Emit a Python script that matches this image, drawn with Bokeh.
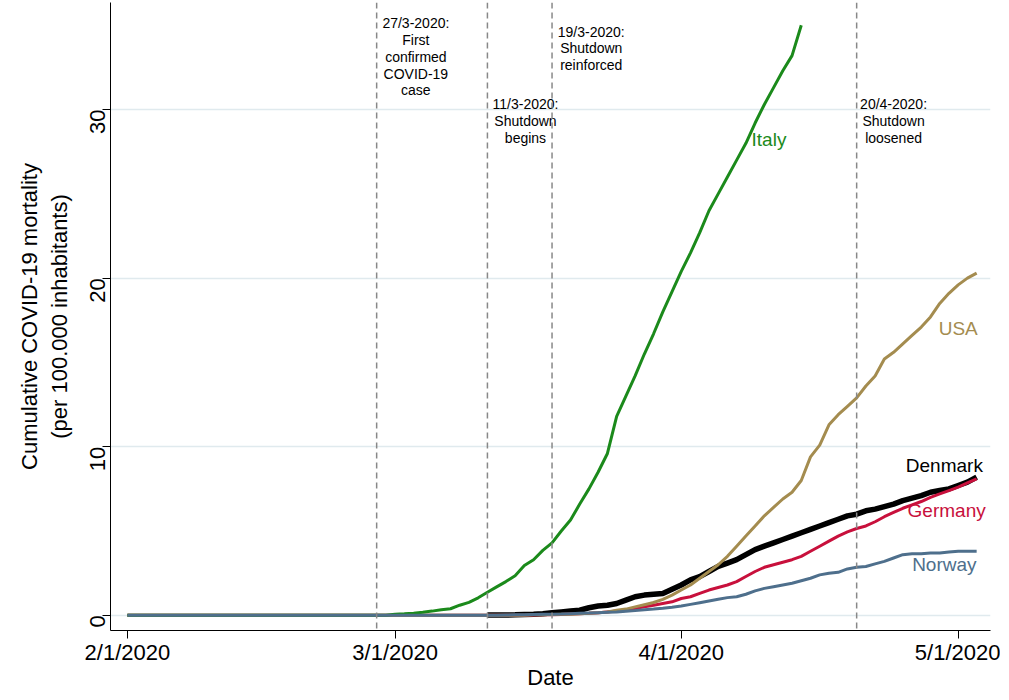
import pandas as pd
from math import pi
from bokeh.plotting import figure
from bokeh.models import Range1d, FixedTicker, Span
from bokeh.core.properties import value
from bokeh.embed import file_html
from bokeh.resources import INLINE

feb_zero = [0.0] * 29  # Feb 1 .. Feb 29

italy = [0.06, 0.09, 0.13, 0.18, 0.25, 0.33, 0.39, 0.6, 0.77, 1.04, 1.37, 1.69, 2.0, 2.35, 2.95,
         3.3, 3.85, 4.3, 5.0, 5.65, 6.6, 7.5, 8.5, 9.6, 11.8, 13.0, 14.2, 15.5, 16.7, 18.0, 19.2,
         20.4, 21.5, 22.7, 24.0, 25.0, 26.0, 27.0, 28.0, 29.2, 30.3, 31.3, 32.3, 33.2, 35.0]
usa = [0.0] * 15 + [0.03, 0.04, 0.05, 0.06, 0.07, 0.1, 0.12, 0.15, 0.2, 0.3, 0.37, 0.5, 0.63, 0.76,
       0.95, 1.2, 1.5, 1.8, 2.2, 2.6, 3.0, 3.5, 4.1, 4.7, 5.3, 5.9, 6.4, 6.9, 7.3, 8.0, 9.4, 10.1,
       11.3, 11.9, 12.4, 12.9, 13.6, 14.2, 15.2, 15.6, 16.1, 16.6, 17.1, 17.7, 18.5, 19.1, 19.6,
       20.0, 20.3]
# Denmark starts on Mar 11
denmark = [0.02, 0.02, 0.02, 0.03, 0.05, 0.07, 0.1, 0.15, 0.2, 0.25, 0.3, 0.45, 0.55,
           0.6, 0.7, 0.9, 1.1, 1.2, 1.25, 1.3, 1.55, 1.8, 2.1, 2.3, 2.6, 2.9, 3.1, 3.3, 3.6, 3.9,
           4.1, 4.3, 4.5, 4.7, 4.9, 5.1, 5.3, 5.5, 5.7, 5.9, 6.0, 6.2, 6.3, 6.45, 6.6, 6.8, 6.95,
           7.1, 7.3, 7.4, 7.5, 7.7, 7.9, 8.2]
germany = [0.0] * 15 + [0.02, 0.03, 0.04, 0.05, 0.08, 0.1, 0.12, 0.15, 0.2, 0.25, 0.3, 0.4, 0.5,
           0.6, 0.7, 0.8, 1.0, 1.1, 1.3, 1.5, 1.65, 1.8, 2.0, 2.3, 2.6, 2.85, 3.0, 3.15, 3.3, 3.5,
           3.8, 4.1, 4.4, 4.7, 4.95, 5.15, 5.3, 5.55, 5.85, 6.1, 6.35, 6.55, 6.75, 7.0, 7.2, 7.4,
           7.6, 7.85, 8.1]
norway = [0.0] * 11 + [0.01, 0.02, 0.03, 0.04, 0.05, 0.06, 0.07, 0.08, 0.1, 0.12, 0.14, 0.16, 0.18,
          0.2, 0.24, 0.28, 0.33, 0.37, 0.42, 0.48, 0.55, 0.65, 0.75, 0.85, 0.95, 1.05, 1.1, 1.25,
          1.45, 1.6, 1.7, 1.8, 1.9, 2.05, 2.2, 2.4, 2.5, 2.55, 2.75, 2.85, 2.9, 3.05, 3.2, 3.4,
          3.6, 3.65, 3.65, 3.7, 3.7, 3.75, 3.8, 3.8, 3.8]

events = ["2020-02-28", "2020-03-11", "2020-03-18", "2020-04-20"]
event_texts = ["27/3-2020:\nFirst\nconfirmed\nCOVID-19\ncase",
               "11/3-2020:\nShutdown\nbegins",
               "19/3-2020:\nShutdown\nreinforced",
               "20/4-2020:\nShutdown\nloosened"]
event_text_x = ["2020-03-03 06:00", "2020-03-15 03:00", "2020-03-22 06:00", "2020-04-24"]
event_text_y = [35.6, 30.8, 35.1, 30.8]

tick_dates = ["2020-02-01", "2020-03-01", "2020-04-01", "2020-05-01"]
tick_labels = ["2/1/2020", "3/1/2020", "4/1/2020", "5/1/2020"]


def ms(d):
    return pd.Timestamp(d).value / 1e6


p = figure(width=1000, height=692, x_axis_type="datetime",
           x_range=Range1d(ms("2020-01-30 04:00"), ms("2020-05-04 12:00")),
           y_range=Range1d(-0.9, 36.35),
           output_backend="svg", toolbar_location=None,
           min_border_left=110, min_border_right=10, min_border_top=2, min_border_bottom=56,
           outline_line_color=None)

p.xgrid.visible = False
p.ygrid.grid_line_color = "#e0eaee"
p.ygrid.grid_line_width = 1.5

tv = [ms(d) for d in tick_dates]
p.xaxis.ticker = FixedTicker(ticks=tv)
p.xaxis.major_label_overrides = {t: l for t, l in zip(tv, tick_labels)}
p.yaxis.ticker = FixedTicker(ticks=[0, 10, 20, 30])
p.yaxis.major_label_orientation = pi / 2
for ax in (p.xaxis, p.yaxis):
    ax.major_label_text_font_size = "22px"
    ax.major_label_text_font = "Liberation Sans"
    ax.major_label_text_color = "black"
    ax.axis_label_text_font = "Liberation Sans"
    ax.axis_label_text_font_size = "22px"
    ax.axis_label_text_font_style = "normal"
    ax.axis_label_text_color = "black"
    ax.minor_tick_line_color = None
    ax.major_tick_out = 8
    ax.major_tick_in = 0
    ax.axis_line_color = "black"
    ax.major_tick_line_color = "black"
p.xaxis.axis_label = "Date"
p.xaxis.axis_label_standoff = -3
p.xaxis.major_label_standoff = 1
p.yaxis.axis_label = "Cumulative COVID-19 mortality\n(per 100.000 inhabitants)"
p.yaxis.axis_label_standoff = 8


def draw(vals, color, width, start="2020-03-01", lead=feb_zero):
    full = lead + vals
    dates = pd.date_range(pd.Timestamp(start) - pd.Timedelta(days=len(lead)), periods=len(full))
    p.line(dates, full, line_color=color, line_width=width)


draw(denmark, "black", 5.5, start="2020-03-11", lead=[])
draw(germany, "#c8103c", 3)
draw(usa, "#a48c4f", 3)
draw(italy, "#1b8a1b", 3)
draw(norway, "#4e6f8c", 3)

for d in events:
    p.add_layout(Span(location=ms(d), dimension="height", line_color="#888888",
                      line_dash="6 4", line_width=1.5))

p.text(x=[pd.Timestamp(d) for d in event_text_x], y=event_text_y, text=event_texts,
       text_align="center", text_baseline="top", text_font_size="14px",
       text_font=value("Liberation Sans"), text_line_height=1.05)

labels = ["Italy", "USA", "Denmark", "Germany", "Norway"]
label_x = ["2020-04-10 12:00", "2020-05-01", "2020-04-29 12:00", "2020-04-29 18:00", "2020-04-29 12:00"]
label_y = [28.2, 17.0, 8.9, 6.2, 3.0]
label_colors = ["#1b8a1b", "#a48c4f", "black", "#c8103c", "#4e6f8c"]
p.text(x=[pd.Timestamp(d) for d in label_x], y=label_y, text=labels, text_color=label_colors,
       text_align="center", text_baseline="middle", text_font_size="19px",
       text_font=value("Liberation Sans"))

open("out.html", "w").write(file_html(p, INLINE))
